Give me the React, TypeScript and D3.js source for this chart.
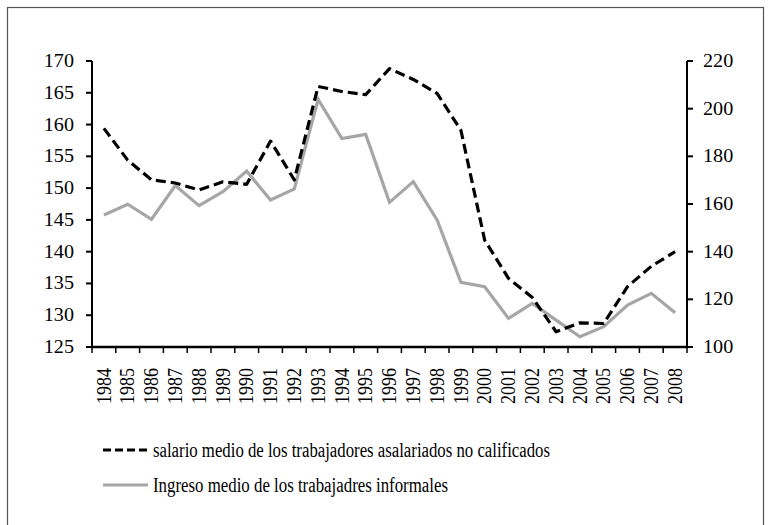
import { useRef, useEffect } from 'react'
import * as d3 from 'd3'

const years = [
  '1984', '1985', '1986', '1987', '1988', '1989', '1990', '1991', '1992',
  '1993', '1994', '1995', '1996', '1997', '1998', '1999', '2000', '2001',
  '2002', '2003', '2004', '2005', '2006', '2007', '2008',
]
// left axis
const salario = [
  159.4, 154.4, 151.3, 150.8, 149.7, 151.0, 150.6, 157.4, 151.3,
  166.0, 165.2, 164.7, 168.8, 167.1, 164.9, 159.1, 141.8, 135.8,
  132.8, 127.4, 128.8, 128.7, 134.5, 137.7, 140.0,
]
// right axis
const ingreso = [
  155.4, 159.9, 153.6, 167.7, 159.3, 165.2, 173.8, 161.7, 166.3,
  203.9, 187.5, 189.2, 160.7, 169.4, 153.3, 127.1, 125.3, 112.0,
  118.3, 111.3, 104.3, 108.5, 117.6, 122.5, 114.4,
]
const leftTicks = [125, 130, 135, 140, 145, 150, 155, 160, 165, 170]
const rightTicks = [100, 120, 140, 160, 180, 200, 220]
const legendLabels = [
  'salario medio de los trabajadores asalariados no calificados',
  'Ingreso medio de los trabajadres informales',
]

const FONT = "'Liberation Serif', 'Times New Roman', Times, Tinos, 'Nimbus Roman', FreeSerif, 'DejaVu Serif', serif"
const SX = 1.12
const FS = 18

const App = () => {
  const ref = useRef<SVGSVGElement>(null)

  useEffect(() => {
    if (!ref.current) return
    const svg = d3.select(ref.current)
    svg.selectAll('*').remove()

    const left = 92
    const right = 687
    const top = 61
    const bottom = 347

    svg.append('rect')
      .attr('x', 7.5).attr('y', 7.5)
      .attr('width', 756).attr('height', 540)
      .attr('fill', 'none')
      .attr('stroke', '#555')
      .attr('stroke-width', 1.2)

    const x = d3.scaleBand<string>().domain(years).range([left, right])
    const yL = d3.scaleLinear().domain([125, 170]).range([bottom, top])
    const yR = d3.scaleLinear().domain([100, 220]).range([bottom, top])
    const cx = (d: string) => (x(d) as number) + x.bandwidth() / 2

    const g = svg.append('g').style('font-family', FONT)

    // left axis
    g.append('line')
      .attr('x1', left).attr('x2', left).attr('y1', top).attr('y2', bottom + 1)
      .attr('stroke', '#000').attr('stroke-width', 2)
    leftTicks.forEach(t => {
      g.append('line')
        .attr('x1', left - 6).attr('x2', left).attr('y1', yL(t)).attr('y2', yL(t))
        .attr('stroke', '#000').attr('stroke-width', 2)
      g.append('text')
        .attr('transform', `translate(74,${yL(t)}) scale(${SX},1)`)
        .attr('text-anchor', 'end')
        .attr('dy', '0.33em')
        .attr('font-size', FS)
        .text(t)
    })

    // right axis
    g.append('line')
      .attr('x1', right).attr('x2', right).attr('y1', top).attr('y2', bottom + 1)
      .attr('stroke', '#000').attr('stroke-width', 2)
    rightTicks.forEach(t => {
      g.append('line')
        .attr('x1', right).attr('x2', right + 6).attr('y1', yR(t)).attr('y2', yR(t))
        .attr('stroke', '#000').attr('stroke-width', 2)
      g.append('text')
        .attr('transform', `translate(703,${yR(t)}) scale(${SX},1)`)
        .attr('text-anchor', 'start')
        .attr('dy', '0.33em')
        .attr('font-size', FS)
        .text(t)
    })

    // x axis
    g.append('line')
      .attr('x1', left - 1).attr('x2', right + 1).attr('y1', bottom).attr('y2', bottom)
      .attr('stroke', '#000').attr('stroke-width', 2.5)
    const edges = years.map(d => x(d) as number).concat([right])
    edges.forEach(e => {
      g.append('line')
        .attr('x1', e).attr('x2', e).attr('y1', bottom).attr('y2', bottom + 6)
        .attr('stroke', '#000').attr('stroke-width', 1.5)
    })
    years.forEach(d => {
      g.append('text')
        .attr('transform', `translate(${cx(d)},368) scale(${SX},1) rotate(-90)`)
        .attr('text-anchor', 'end')
        .attr('dy', '0.33em')
        .attr('font-size', FS)
        .text(d)
    })

    // series
    const lineR = d3.line<number>().x((_, i) => cx(years[i])).y(v => yR(v))
    const lineL = d3.line<number>().x((_, i) => cx(years[i])).y(v => yL(v))

    g.append('path')
      .attr('d', lineR(ingreso) as string)
      .attr('fill', 'none')
      .attr('stroke', '#a6a6a6')
      .attr('stroke-width', 3.2)
      .attr('stroke-linejoin', 'miter')

    g.append('path')
      .attr('d', lineL(salario) as string)
      .attr('fill', 'none')
      .attr('stroke', '#000')
      .attr('stroke-width', 3.2)
      .attr('stroke-dasharray', '10,5')
      .attr('stroke-linejoin', 'round')

    // legend
    const legendY = [450, 485]
    const lg = svg.append('g').style('font-family', FONT)
    lg.append('line')
      .attr('x1', 103).attr('x2', 150).attr('y1', legendY[0]).attr('y2', legendY[0])
      .attr('stroke', '#000').attr('stroke-width', 3.2)
      .attr('stroke-dasharray', '8,4')
    lg.append('line')
      .attr('x1', 103).attr('x2', 148).attr('y1', legendY[1]).attr('y2', legendY[1])
      .attr('stroke', '#a6a6a6').attr('stroke-width', 3.2)
    legendLabels.forEach((t, i) => {
      lg.append('text')
        .attr('x', 153)
        .attr('y', legendY[i])
        .attr('dy', '0.33em')
        .attr('font-size', 20)
        .attr('textLength', i === 0 ? 397 : 295)
        .attr('lengthAdjust', 'spacingAndGlyphs')
        .text(t)
    })
  }, [])

  return (
    <svg
      ref={ref}
      width={770}
      height={525}
      style={{ position: 'absolute', left: 0, top: 0, background: '#fff' }}
    />
  )
}

export default App
